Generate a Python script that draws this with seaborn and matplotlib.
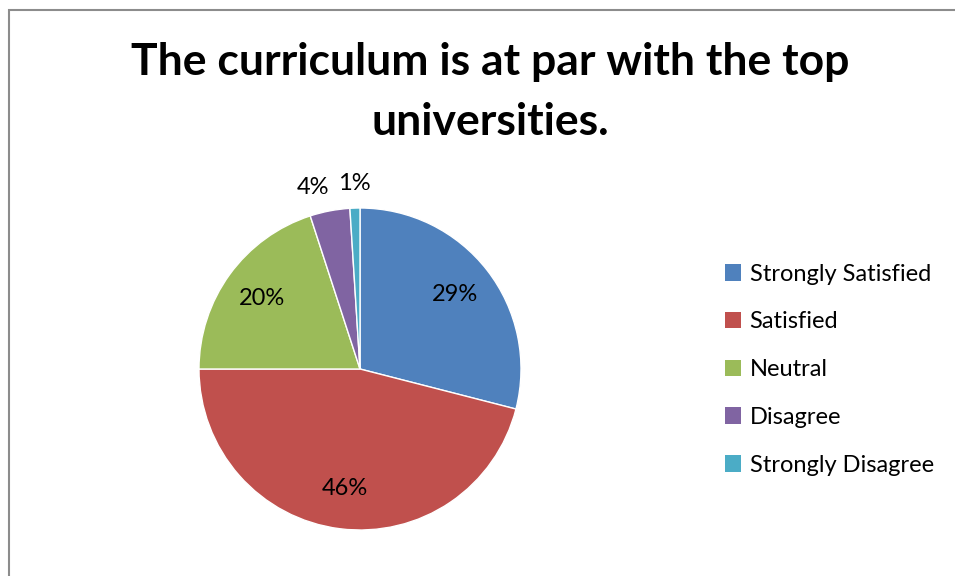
import numpy as np
import seaborn as sns
import matplotlib.pyplot as plt
from matplotlib.patches import Patch, Rectangle

categories = ["Strongly Satisfied", "Satisfied", "Neutral", "Disagree", "Strongly Disagree"]
values = [29, 46, 20, 4, 1]
title = "The curriculum is at par with the top\nuniversities."

sns.set_theme(style="white")
plt.rcParams['font.family'] = ['Lato', 'DejaVu Sans']
plt.rcParams['text.color'] = 'black'
colors = sns.color_palette(["#4F81BD", "#C0504D", "#9BBB59", "#8064A2", "#4BACC6"])

W, H = 955, 576
fig = plt.figure(figsize=(W / 100, H / 100), dpi=100)

# pie area: centre (360, 369) px, radius ~161 px
cx, cy, r = 360, 369, 161
ax = fig.add_axes([(cx - r) / W, (H - cy - r) / H, 2 * r / W, 2 * r / H])
wedges, texts, pcts = ax.pie(values, colors=colors, startangle=90, counterclock=False,
                             autopct='%.0f%%', pctdistance=0.75,
                             wedgeprops=dict(edgecolor='white', linewidth=1),
                             textprops=dict(fontsize=17, color='black'))
# small slices get their labels outside, like Excel does
shift = {3: -0.07, 4: 0.0}
for i, (w, t, v) in enumerate(zip(wedges, pcts, values)):
    if v < 10:
        ang = np.deg2rad((w.theta1 + w.theta2) / 2)
        t.set_position((1.17 * np.cos(ang) + shift[i], 1.15 * np.sin(ang)))
ax.set_xlim(-1, 1)
ax.set_ylim(-1, 1)
ax.set_aspect('equal')
ax.axis('off')

fig.text(490 / W, 1 - 42 / H, title, ha='center', va='top', fontsize=32,
         fontweight='bold', linespacing=1.6, color='black')

handles = [Patch(facecolor=c, edgecolor='none') for c in colors]
fig.legend(handles, categories, loc='upper left', bbox_to_anchor=(713 / W, 1 - 252 / H),
           frameon=False, fontsize=17, handlelength=0.7, handleheight=0.7,
           handletextpad=0.35, labelspacing=1.13, borderpad=0, labelcolor='black')

fig.add_artist(Rectangle((8.5 / W, -0.1), 1.2, 1.1 - 10 / H, transform=fig.transFigure,
                         fill=False, edgecolor='#8c8c8c', linewidth=1.5, clip_on=False))

fig.savefig("out.png", dpi=100, facecolor='white')
